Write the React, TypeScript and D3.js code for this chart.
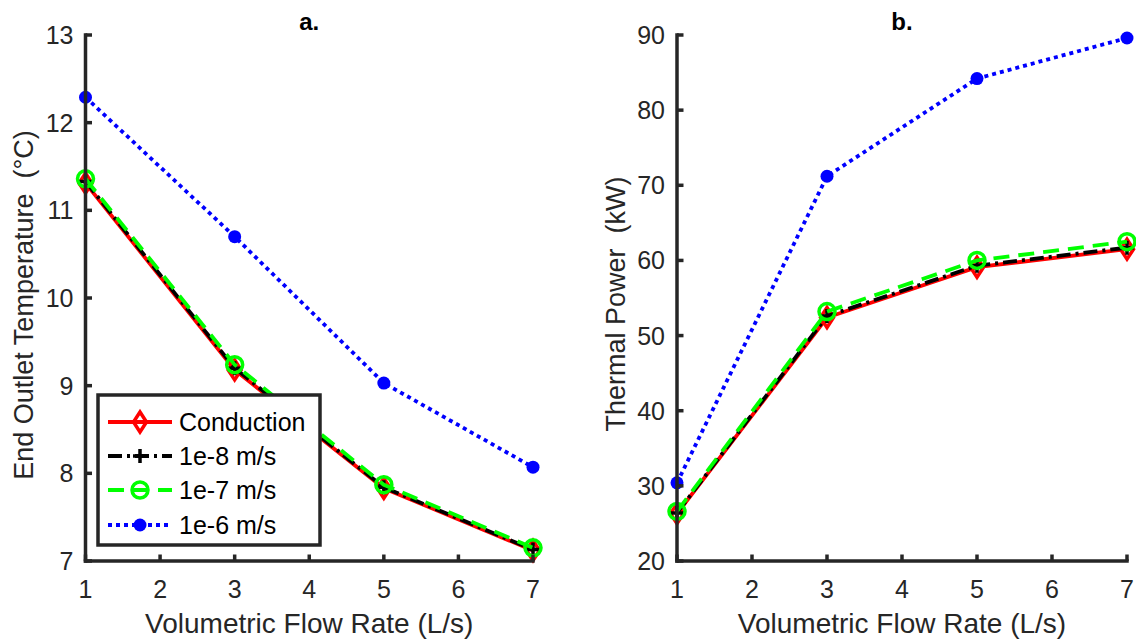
import React from 'react';
import * as d3 from 'd3';

const flowRates = [1, 3, 5, 7];
const xTicks = [1, 2, 3, 4, 5, 6, 7];
const seriesNames = ['Conduction', '1e-8 m/s', '1e-7 m/s', '1e-6 m/s'];

const tempConduction = [11.31, 9.18, 7.83, 7.12];
const temp1e8 = [11.33, 9.2, 7.84, 7.13];
const temp1e7 = [11.36, 9.24, 7.87, 7.15];
const temp1e6 = [12.29, 10.7, 9.03, 8.07];
const tempTicks = [7, 8, 9, 10, 11, 12, 13];

const powerConduction = [26.3, 52.4, 59.1, 61.5];
const power1e8 = [26.4, 52.6, 59.3, 61.7];
const power1e7 = [26.6, 53.2, 60.0, 62.5];
const power1e6 = [30.4, 71.2, 84.2, 89.6];
const powerTicks = [20, 30, 40, 50, 60, 70, 80, 90];

const FONT = "'Liberation Sans', Arial, Helvetica, sans-serif";
const AX = '#262626';
const LW = 3.8;

const seriesStyles = [
  { color: '#ff0000', dash: undefined as string | undefined, marker: 'diamond' },
  { color: '#000000', dash: '14,5,3,5', marker: 'plus' },
  { color: '#00ff00', dash: '16,9', marker: 'circle' },
  { color: '#0000ff', dash: '4,4', marker: 'dot' },
];

function Marker({ type, color, cx, cy }: { type: string; color: string; cx: number; cy: number }) {
  if (type === 'diamond') {
    return (
      <path
        d={`M${cx},${cy - 10} L${cx + 6.5},${cy} L${cx},${cy + 10} L${cx - 6.5},${cy} Z`}
        fill="none"
        stroke={color}
        strokeWidth={3.5}
      />
    );
  }
  if (type === 'plus') {
    return (
      <path
        d={`M${cx - 7},${cy} H${cx + 7} M${cx},${cy - 7} V${cy + 7}`}
        stroke={color}
        strokeWidth={3.5}
        fill="none"
      />
    );
  }
  if (type === 'circle') {
    return <circle cx={cx} cy={cy} r={8} fill="none" stroke={color} strokeWidth={3.5} />;
  }
  return <circle cx={cx} cy={cy} r={6.5} fill={color} stroke="none" />;
}

type PanelProps = {
  left: number;
  right: number;
  top: number;
  bottom: number;
  yDomain: [number, number];
  yTicks: number[];
  data: number[][];
  title: string;
  ylabel: string;
  ylabelX: number;
  ylabelY: number;
};

function Panel(p: PanelProps) {
  const x = d3.scaleLinear().domain([1, 7]).range([p.left, p.right]);
  const y = d3.scaleLinear().domain(p.yDomain).range([p.bottom, p.top]);
  const line = d3
    .line<number>()
    .x((_, i) => x(flowRates[i]))
    .y((d) => y(d));
  const cx = (p.left + p.right) / 2;
  return (
    <g>
      {p.data.map((vals, si) => {
        const st = seriesStyles[si];
        return (
          <g key={si}>
            <path
              d={line(vals) || ''}
              fill="none"
              stroke={st.color}
              strokeWidth={LW}
              strokeDasharray={st.dash}
            />
            {vals.map((v, i) => (
              <Marker key={i} type={st.marker} color={st.color} cx={x(flowRates[i])} cy={y(v)} />
            ))}
          </g>
        );
      })}
      <line x1={p.left} x2={p.left} y1={p.top} y2={p.bottom} stroke={AX} strokeWidth={3.5} strokeLinecap="square" />
      <line x1={p.left} x2={p.right} y1={p.bottom} y2={p.bottom} stroke={AX} strokeWidth={3.5} strokeLinecap="square" />
      {xTicks.map((t) => (
        <g key={'x' + t}>
          <line x1={x(t)} x2={x(t)} y1={p.bottom} y2={p.bottom - 6.5} stroke={AX} strokeWidth={3.5} />
          <text x={x(t)} y={598} textAnchor="middle" fontSize={25} fill={AX} fontFamily={FONT}>
            {t}
          </text>
        </g>
      ))}
      {p.yTicks.map((t) => (
        <g key={'y' + t}>
          <line x1={p.left} x2={p.left + 6.5} y1={y(t)} y2={y(t)} stroke={AX} strokeWidth={3.5} />
          <text x={p.left - 12} y={y(t)} dy="0.36em" textAnchor="end" fontSize={25} fill={AX} fontFamily={FONT}>
            {t}
          </text>
        </g>
      ))}
      <text x={cx} y={633} textAnchor="middle" fontSize={28} fill={AX} fontFamily={FONT}>
        Volumetric Flow Rate (L/s)
      </text>
      <text
        transform={`translate(${p.ylabelX},${p.ylabelY}) rotate(-90)`}
        textAnchor="middle"
        dy="0.36em"
        fontSize={27}
        fill={AX}
        fontFamily={FONT}
        style={{ whiteSpace: 'pre' }}
      >
        {p.ylabel}
      </text>
      <text x={cx} y={30} textAnchor="middle" fontSize={24} fontWeight="bold" fill="#000" fontFamily={FONT}>
        {p.title}
      </text>
    </g>
  );
}

function Legend() {
  const rowY = [422, 456, 490, 525];
  return (
    <g>
      <rect x={98} y={395} width={222} height={150} fill="#fff" stroke={AX} strokeWidth={3.5} />
      {seriesNames.map((name, i) => {
        const st = seriesStyles[i];
        return (
          <g key={name}>
            <line
              x1={108}
              x2={172}
              y1={rowY[i]}
              y2={rowY[i]}
              stroke={st.color}
              strokeWidth={LW}
              strokeDasharray={st.dash}
            />
            <Marker type={st.marker} color={st.color} cx={140} cy={rowY[i]} />
            <text x={179} y={rowY[i]} dy="0.36em" fontSize={25} fill="#000" fontFamily={FONT}>
              {name}
            </text>
          </g>
        );
      })}
    </g>
  );
}

export default function App() {
  return (
    <div style={{ position: 'absolute', left: 0, top: 0 }}>
      <svg width={1136} height={643} style={{ display: 'block', background: '#fff' }}>
        <Panel
          left={85.5}
          right={533}
          top={35}
          bottom={561}
          yDomain={[7, 13]}
          yTicks={tempTicks}
          data={[tempConduction, temp1e8, temp1e7, temp1e6]}
          title="a."
          ylabel="End Outlet Temperature  (°C)"
          ylabelX={23}
          ylabelY={305}
        />
        <Legend />
        <Panel
          left={677}
          right={1127}
          top={35}
          bottom={561}
          yDomain={[20, 90]}
          yTicks={powerTicks}
          data={[powerConduction, power1e8, power1e7, power1e6]}
          title="b."
          ylabel="Thermal Power  (kW)"
          ylabelX={615}
          ylabelY={304}
        />
      </svg>
    </div>
  );
}
